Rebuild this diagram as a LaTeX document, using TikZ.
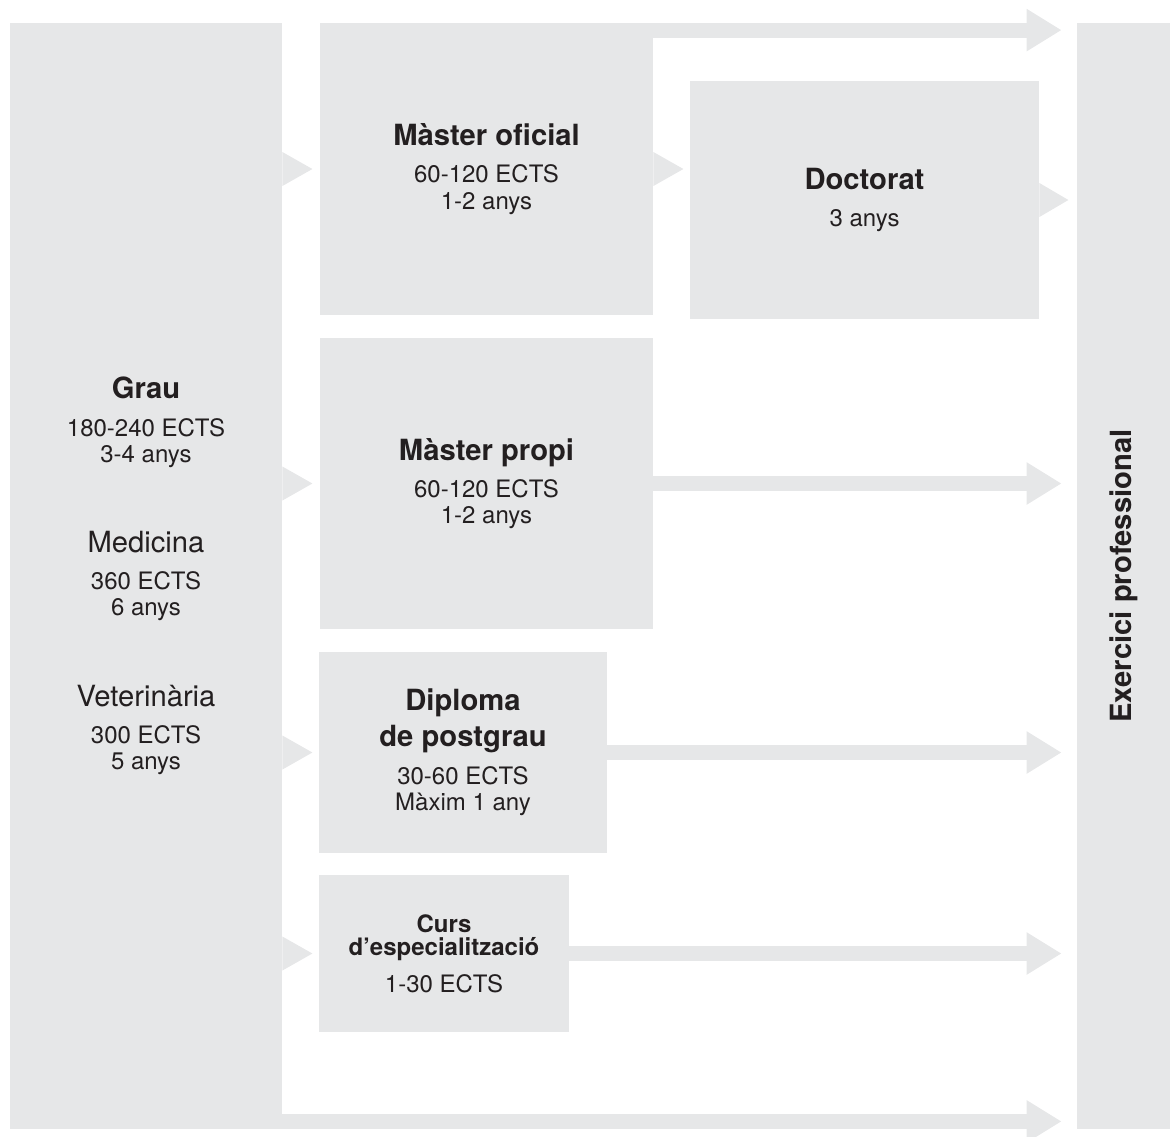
\documentclass[tikz,border=0pt]{standalone}
\usepackage{fontspec}
\setmainfont{TeX Gyre Heros}
\usetikzlibrary{arrows.meta}

\definecolor{panelgray}{HTML}{E6E7E8}
\definecolor{inkgray}{HTML}{231F20}

\newcommand{\headtxt}[1]{{\bfseries\fontsize{14.6}{16}\selectfont #1}}
\newcommand{\degtxt}[1]{{\fontsize{14.6}{16}\selectfont #1}}

\tikzset{
  panel/.style={fill=panelgray, inner sep=0pt, align=center, text=inkgray,
    font=\fontsize{12}{13.2}\selectfont},
  flow/.style={draw=panelgray, line width=7.5pt,
    -{Triangle[length=17.5pt,width=20pt]}, shorten >=7.5pt},
}

\begin{document}
\begin{tikzpicture}[x=0.5pt, y=-0.5pt]
\useasboundingbox (0,0) rectangle (1170,1136);

% columns
\node[panel, minimum width=136pt, minimum height=553pt] (grau) at (146,576)
  {\headtxt{Grau}\\[5.3pt] 180-240 ECTS\\ 3-4 anys\\[30.8pt]
   \degtxt{Medicina}\\[5.3pt] 360 ECTS\\ 6 anys\\[30.8pt]
   \degtxt{Veterinària}\\[5.3pt] 300 ECTS\\ 5 anys};
\node[panel, minimum width=46.5pt, minimum height=553pt] (ex) at (1123.5,576) {};
\node[rotate=90, text=inkgray, inner sep=0pt] (exlabel) at (ex.center)
  {\headtxt{Exercici professional}};

% studies
\node[panel, minimum width=166.5pt, minimum height=146pt] (mo) at (486.5,169)
  {\headtxt{Màster oficial}\\[5.3pt] 60-120 ECTS\\ 1-2 anys};
\node[panel, minimum width=174.5pt, minimum height=119pt] (dc) at (864.5,200)
  {\headtxt{Doctorat}\\[5.3pt] 3 anys};
\node[panel, minimum width=166.5pt, minimum height=145.5pt] (mp) at (486.5,483.5)
  {\headtxt{Màster propi}\\[5.3pt] 60-120 ECTS\\ 1-2 anys};
\node[panel, minimum width=144pt, minimum height=100.5pt] (dp) at (463,752.5)
  {\headtxt{Diploma}\\[2.8pt] \headtxt{de postgrau}\\[5.8pt] 30-60 ECTS\\ Màxim 1 any};
\node[panel, minimum width=125pt, minimum height=78.5pt] (cu) at (444,953.5)
  {\textbf{Curs}\\[-1.5pt] \textbf{d’especialització}\\[5.1pt] 1-30 ECTS};

% notches
\fill[panelgray] (grau.east |- mo.west) -- ++(0,-17) -- ++(30,17) -- ++(-30,17) -- cycle;
\fill[panelgray] (grau.east |- mp.west) -- ++(0,-17) -- ++(30,17) -- ++(-30,17) -- cycle;
\fill[panelgray] (grau.east |- dp.west) -- ++(0,-17) -- ++(30,17) -- ++(-30,17) -- cycle;
\fill[panelgray] (grau.east |- cu.west) -- ++(0,-17) -- ++(30,17) -- ++(-30,17) -- cycle;
\fill[panelgray] (mo.east) -- ++(0,-17) -- ++(30,17) -- ++(-30,17) -- cycle;
\fill[panelgray] (dc.east) -- ++(0,-17) -- ++(29,17) -- ++(-29,17) -- cycle;

% arrows to the right column
\coordinate (motop) at ([yshift=-3.75pt]mo.north east);
\coordinate (graubot) at ([yshift=4pt]grau.south east);
\draw[flow] (motop) -- (motop -| ex.west);
\draw[flow] (mp.east) -- (mp.east -| ex.west);
\draw[flow] (dp.east) -- (dp.east -| ex.west);
\draw[flow] (cu.east) -- (cu.east -| ex.west);
\draw[flow] (graubot) -- (graubot -| ex.west);

\end{tikzpicture}
\end{document}
